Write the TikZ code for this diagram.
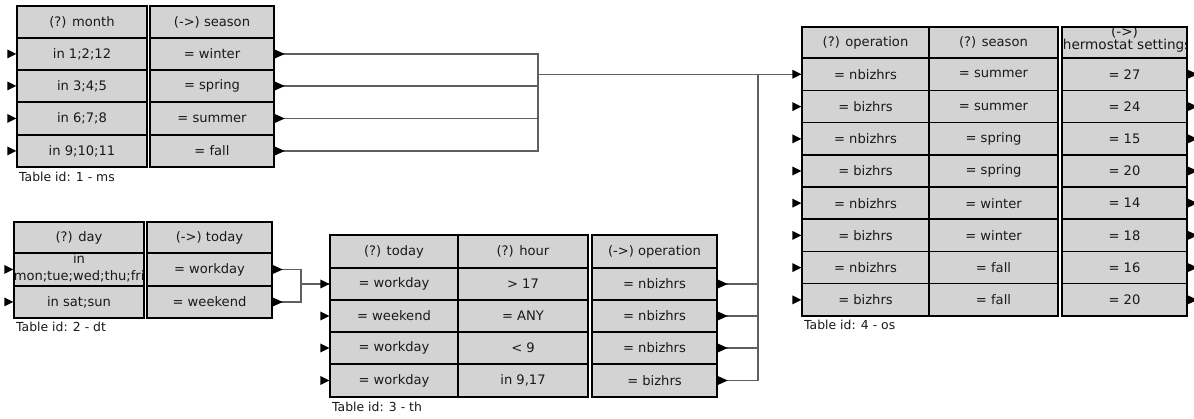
\documentclass[tikz,border=0pt]{standalone}
\usepackage{fontspec}
\setmainfont{DejaVu Sans}
\definecolor{cellgray}{RGB}{211,211,211}
\definecolor{txt}{RGB}{25,25,25}
\definecolor{wire}{RGB}{95,95,95}
\tikzset{
  cellbox/.style={draw=black, line width=1.5pt, fill=cellgray, inner sep=0pt,
    text=txt, font=\fontsize{13.1}{14}\selectfont},
  conn/.style={draw=wire, line width=1.1pt},
  tlabel/.style={anchor=base west, inner sep=0pt, text=txt, font=\fontsize{12.4}{13}\selectfont},
  cliptext/.style={inner sep=0pt, text=txt, font=\fontsize{13.1}{14}\selectfont}
}
\newcommand\mkcell[7][]{%
  \pgfmathsetmacro\cw{#4-#3}%
  \pgfmathsetmacro\ch{#6-#5}%
  \node[cellbox, minimum width=\cw pt, minimum height=\ch pt, #1] (#2) at ({(#3+#4)/2},{(#5+#6)/2}) {#7};}
\newcommand\portin[1]{\fill[black] (#1.west) ++(-9,-4.5) -- ++(9,4.5) -- ++(-9,4.5) -- cycle;}
\newcommand\portout[1]{\fill[black] (#1.east) ++(0,-4.5) -- ++(10,4.5) -- ++(-10,4.5) -- cycle;}
\begin{document}
\begin{tikzpicture}[x=1pt,y=-1pt]
\useasboundingbox (0,0) rectangle (1194,419);
\fill[white] (0,0) rectangle (1194,419);

% ---------- Table 1 ----------
\mkcell{t1c1h}{17}{147}{6}{38}{(?) month}
\mkcell{t1c2h}{150}{274}{6}{38}{(->) season}
\mkcell{t1c1r1}{17}{147}{38}{70}{in 1;2;12}
\mkcell{t1c2r1}{150}{274}{38}{70}{= winter}
\mkcell{t1c1r2}{17}{147}{70}{102}{in 3;4;5}
\mkcell{t1c2r2}{150}{274}{70}{102}{= spring}
\mkcell{t1c1r3}{17}{147}{102}{135}{in 6;7;8}
\mkcell{t1c2r3}{150}{274}{102}{135}{= summer}
\mkcell{t1c1r4}{17}{147}{135}{167}{in 9;10;11}
\mkcell{t1c2r4}{150}{274}{135}{167}{= fall}
\node[tlabel] (t1lab) at (19,182) {Table id: 1 - ms};

% ---------- Table 2 ----------
\mkcell{t2c1h}{14}{144}{222}{253}{(?) day}
\mkcell{t2c2h}{147}{272}{222}{253}{(->) today}
\mkcell[path picture={
   \node[cliptext, anchor=base] at ([yshift=6pt]path picture bounding box.center) {in};
   \node[cliptext, anchor=base west] at ([yshift=-11pt,xshift=-1pt]path picture bounding box.west) {mon;tue;wed;thu;fri};
 }]{t2c1r1}{14}{144}{253}{286}{}
\mkcell{t2c2r1}{147}{272}{253}{286}{= workday}
\mkcell{t2c1r2}{14}{144}{286}{318}{in sat;sun}
\mkcell{t2c2r2}{147}{272}{286}{318}{= weekend}
\node[tlabel] (t2lab) at (16,332) {Table id: 2 - dt};

% ---------- Table 3 ----------
\mkcell{t3c1h}{330}{458}{235}{268}{(?) today}
\mkcell{t3c2h}{458}{588}{235}{268}{(?) hour}
\mkcell{t3c3h}{592}{717}{235}{268}{(->) operation}
\mkcell{t3c1r1}{330}{458}{268}{300}{= workday}
\mkcell{t3c2r1}{458}{588}{268}{300}{> 17}
\mkcell{t3c3r1}{592}{717}{268}{300}{= nbizhrs}
\mkcell{t3c1r2}{330}{458}{300}{332}{= weekend}
\mkcell{t3c2r2}{458}{588}{300}{332}{= ANY}
\mkcell{t3c3r2}{592}{717}{300}{332}{= nbizhrs}
\mkcell{t3c1r3}{330}{458}{332}{364}{= workday}
\mkcell{t3c2r3}{458}{588}{332}{364}{< 9}
\mkcell{t3c3r3}{592}{717}{332}{364}{= nbizhrs}
\mkcell{t3c1r4}{330}{458}{364}{397}{= workday}
\mkcell{t3c2r4}{458}{588}{364}{397}{in 9,17}
\mkcell{t3c3r4}{592}{717}{364}{397}{= bizhrs}
\node[tlabel] (t3lab) at (332,411) {Table id: 3 - th};

% ---------- Table 4 ----------
\mkcell{t4c1h}{802}{929}{27}{58}{(?) operation}
\mkcell{t4c2h}{929}{1058}{27}{58}{(?) season}
\mkcell[path picture={
   \node[cliptext, align=center, font=\fontsize{13.6}{13}\selectfont] at ([yshift=3pt]path picture bounding box.center) {(->)\\thermostat settings};
 }]{t4c3h}{1062}{1187}{27}{58}{}
\mkcell{t4c1r1}{802}{929}{58}{90.5}{= nbizhrs}
\mkcell{t4c2r1}{929}{1058}{58}{90.5}{= summer}
\mkcell{t4c3r1}{1062}{1187}{58}{90.5}{= 27}
\mkcell{t4c1r2}{802}{929}{90.5}{122.75}{= bizhrs}
\mkcell{t4c2r2}{929}{1058}{90.5}{122.75}{= summer}
\mkcell{t4c3r2}{1062}{1187}{90.5}{122.75}{= 24}
\mkcell{t4c1r3}{802}{929}{122.75}{155}{= nbizhrs}
\mkcell{t4c2r3}{929}{1058}{122.75}{155}{= spring}
\mkcell{t4c3r3}{1062}{1187}{122.75}{155}{= 15}
\mkcell{t4c1r4}{802}{929}{155}{187}{= bizhrs}
\mkcell{t4c2r4}{929}{1058}{155}{187}{= spring}
\mkcell{t4c3r4}{1062}{1187}{155}{187}{= 20}
\mkcell{t4c1r5}{802}{929}{187}{219.25}{= nbizhrs}
\mkcell{t4c2r5}{929}{1058}{187}{219.25}{= winter}
\mkcell{t4c3r5}{1062}{1187}{187}{219.25}{= 14}
\mkcell{t4c1r6}{802}{929}{219.25}{251.5}{= bizhrs}
\mkcell{t4c2r6}{929}{1058}{219.25}{251.5}{= winter}
\mkcell{t4c3r6}{1062}{1187}{219.25}{251.5}{= 18}
\mkcell{t4c1r7}{802}{929}{251.5}{283.75}{= nbizhrs}
\mkcell{t4c2r7}{929}{1058}{251.5}{283.75}{= fall}
\mkcell{t4c3r7}{1062}{1187}{251.5}{283.75}{= 16}
\mkcell{t4c1r8}{802}{929}{283.75}{316}{= bizhrs}
\mkcell{t4c2r8}{929}{1058}{283.75}{316}{= fall}
\mkcell{t4c3r8}{1062}{1187}{283.75}{316}{= 20}
\node[tlabel] (t4lab) at (804,330) {Table id: 4 - os};

% ---------- connectors ----------
\coordinate (bus1) at (538,74.25);
\coordinate (bus2) at (301,284);
\coordinate (bus3) at (758,74.25);
\foreach \r in {1,...,4} \draw[conn] (t1c2r\r.east) -| (bus1);
\draw[conn] (bus1) -- (t4c1r1.west);
\foreach \r in {1,2} \draw[conn] (t2c2r\r.east) -| (bus2);
\draw[conn] (bus2) -- (t3c1r1.west);
\foreach \r in {1,...,4} \draw[conn] (t3c3r\r.east) -| (bus3);

% ---------- ports ----------
\foreach \r in {1,...,4} {\portin{t1c1r\r} \portout{t1c2r\r}}
\foreach \r in {1,2} {\portin{t2c1r\r} \portout{t2c2r\r}}
\foreach \r in {1,...,4} {\portin{t3c1r\r} \portout{t3c3r\r}}
\foreach \r in {1,...,8} {\portin{t4c1r\r} \portout{t4c3r\r}}
\end{tikzpicture}
\end{document}
